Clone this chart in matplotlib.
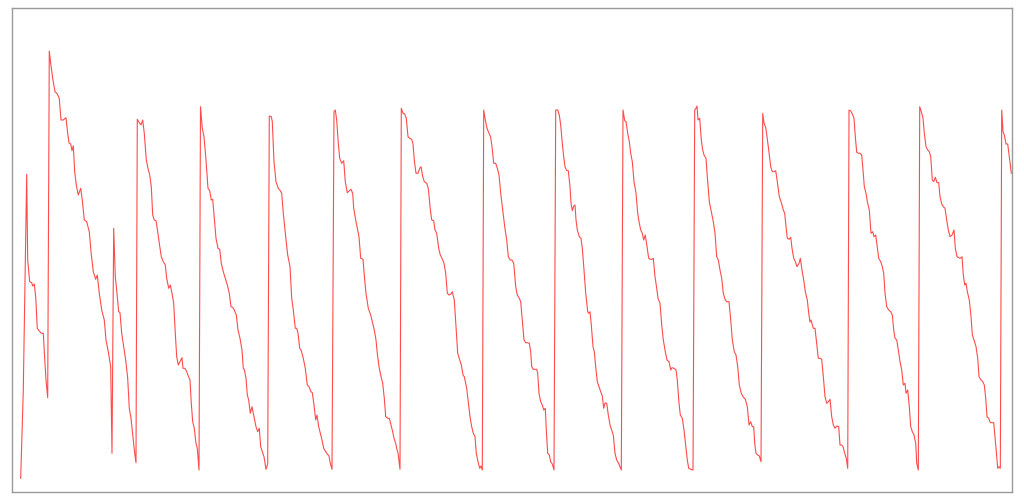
import matplotlib
matplotlib.use("Agg")
import matplotlib.pyplot as plt

# sample time (arbitrary units) and level
t = [0.7, 3.3, 6.7, 7.7, 9.7, 11.7, 12.7, 14.3, 15.7, 17.3, 19, 21.3, 23.3, 24.3, 26, 27.7,
     29.3, 30.7, 32.7, 35, 37.3, 39.3, 41, 43.3, 46, 47.7, 49, 50.7, 52, 53.3, 54.7, 56.3,
     58.3, 60.7, 62.3, 64.3, 66.7, 69.3, 71, 73.3, 75.7, 77.3, 79.3, 81.7, 84.3, 86, 88.3,
     90.7, 92,
     93.7, 95.3, 97, 98.7, 100, 101.7, 103.7, 105.7, 107.7, 109.3, 111, 113, 114.7, 116,
     117.3, 119.3, 121, 122.7, 124.3, 126.3, 128, 129.7, 131.3, 132.7, 134.3, 136, 137.7,
     139.3, 141.3, 143.3, 145.3, 146.7, 148.7, 150.3, 152, 153.7, 155.3, 156.7, 158.3, 160,
     162, 163, 165, 166.7, 168.3, 170, 171.3, 172.7, 174.3, 176, 177.3, 179,
     180.5, 182.3, 184, 186, 188, 189.7, 191.3, 192.7, 194.3, 196, 198, 199.7, 201.3, 203.3,
     205.3, 207.3, 209.3, 211, 212.7, 214.3, 216.3, 218, 220, 222, 223.3, 224.3, 226, 227.3,
     228.7, 230.3, 232, 234, 236, 237.7, 239.3, 240.7, 242.3, 244, 246, 247.7,
     249.3, 251.3, 252.3, 254, 256, 258.3, 260.3, 261.7, 263.3, 265.7, 267.7, 270, 271.7,
     273.3, 275.3, 276.7, 278, 279.7, 281.3, 283.3, 285.3, 287.3, 289, 291, 292.3, 294,
     295.7, 297, 298.7, 300.3, 302, 303.7, 305.7, 307.3, 309, 310.3, 312,
     314, 315.3, 316.7, 318.3, 319.7, 321.7, 323.7, 325.3, 327.3, 329.3, 331, 332.7, 333.7,
     335.7, 337.7, 339, 340.7, 343, 344.7, 346, 348.3, 350.7, 352.3, 354.3, 356, 357.3, 359,
     360.7, 362.7, 364.3, 365.7, 367.7, 369.3, 371, 372.7, 374, 375.7, 377, 378, 380,
     381.3, 383, 384.7, 386.3, 388, 389.7, 391.7, 393, 394.3, 396, 398, 399.7, 401, 402.7,
     404.3, 406.7, 408.3, 410, 411.7, 413.7, 415, 416.7, 418.7, 420.3, 422, 424, 425.7,
     427.3, 429, 431, 432.3, 434.3, 436, 437.7, 439.7, 441.3, 443, 444.3, 446.7, 448.3, 450,
     451.7, 453.3, 455, 456.3, 458, 459.7, 461, 462.3,
     463.7, 465.3, 467, 468.7, 470.7, 472, 473.7, 475.7, 477.3, 479, 480.7, 482.7, 484.7,
     486.7, 488.3, 490.3, 492, 493.7, 495.7, 497.3, 499.3, 500.7, 502.3, 504, 505.7, 507.7,
     509.3, 510.7, 511.7, 513.3, 516.7, 517.7, 519, 520.7, 522.3, 523.7, 525.3, 526.3,
     527.7, 529.3, 530.7, 532.3, 534,
     535.7, 537.7, 539.3, 540.7, 542.3, 543.7, 545, 546.7, 548.3, 550, 551, 552.3, 553.7,
     555, 556, 557.3, 559.3, 561, 562.3, 564, 565.7, 567.7, 568.7, 570, 571.3, 573, 574.3,
     576, 577.3, 579, 580.7, 582.3, 583.7, 585, 586.7, 588.3, 590, 591.7, 593.3, 595, 596.7,
     598.3, 600, 601.3,
     603, 604.7, 606, 607.7, 609.3, 610.7, 612.3, 614, 616, 617.7, 619, 620.7, 622.3, 623.7,
     625.3, 627, 628.7, 630.3, 632, 633.3, 635, 636.7, 638, 640, 641.7, 643.3, 645.3, 647,
     649, 650.7, 652, 654, 656, 657.3, 659, 660.3, 662.3, 664, 665.7, 667.3, 668.7, 670.7,
     673,
     674.7, 676, 677, 678, 679.7, 681.3, 682.7, 684, 686, 687.3, 689.3, 691.3, 693.3, 695,
     696.7, 698.3, 700, 701.7, 703.3, 705, 706.7, 709, 710.7, 712.3, 714.3, 716, 717.7,
     719.3, 721.3, 723, 725.3, 727.3, 729, 730.7, 732.3, 733.7, 734.7, 736, 737.7, 739.3,
     741,
     742.7, 744, 745.7, 747, 748.7, 750.7, 752.3, 754, 755.7, 757.3, 759.3, 761, 763.3,
     764.7, 766, 767.3, 769, 770.7, 772, 773.7, 775.3, 777, 779, 780.3, 782, 783.7, 785.3,
     787.3, 788.7, 790, 791, 793.3, 795, 796.7, 798.3, 800, 801.7, 803.3, 805, 806.7, 808.3,
     810, 811.7, 813.3, 815, 816.7, 818.7, 820, 821.7, 823, 824.7, 826.3, 827.7,
     829, 830.7, 832.3, 834, 835.3, 836.7, 838.3, 840, 841.7, 843, 844.3, 846, 847.3, 849.3,
     851, 852.7, 854, 855.7, 857, 858.7, 860.7, 862.3, 863.7, 865, 866.7, 868.7, 870.7,
     872.3, 873.7, 875, 876.7, 878.3, 880, 881.7, 883.3, 885, 886, 887.7, 889.3, 890.7,
     892.3, 894, 895.7, 896.7, 898.3,
     899.7, 901.3, 903, 904.3, 906, 907.7, 909.3, 910.7, 912.3, 913.7, 915.3, 917, 918.7,
     920, 921.7, 923.3, 925, 926.7, 928.3, 930, 932, 934, 935.3, 937, 938.7, 940.3, 942,
     943.3, 944.7, 946, 947.3, 949.3, 951, 952.3, 954, 956, 957.7, 959, 961, 962.7, 964.3,
     965.7, 967, 968.7, 970.3, 973.7, 975, 976.3, 977.7, 979, 980.3,
     981.7, 983, 984.3, 986, 987.7, 989.3, 991.3]

level = [13.7, 102, 317.7, 232, 210.3, 209.3, 206, 208, 195.3, 163.7, 161.3, 158.7, 158.7,
         140.3, 112, 94.3,
         441, 428.7, 413.7, 400.3, 398, 393.7, 372, 372, 374.3, 358.7, 349.3, 348, 341.3,
         346.3, 320.3, 307, 297, 303.7, 292, 272, 270.3, 260.3, 240.3, 220.3, 212.7, 217,
         198.7, 182, 172, 152, 140.3, 125.3, 38.7,
         263.7, 215.3, 198.7, 180.3, 179.3, 158.7, 145.3, 132, 113.7, 83.7, 73.7, 55.3, 38.7,
         29.3,
         372.7, 369.3, 367, 372, 358.7, 332, 323.7, 317, 305.3, 277, 272, 271.3, 260.3, 248.7,
         235.3, 230.3, 227, 213.7, 203.7, 207, 198.7, 188.7, 158.7, 135.3, 127, 130.3, 134.3,
         123.7, 123.7, 120.3, 116, 112, 88.7, 70.3, 63.7, 48.7, 43.7, 22,
         385.3, 363.7, 355.3, 332, 303.7, 301.3, 292, 292.7, 273.7, 253.7, 243.7, 242.7, 228.7,
         220.3, 213.7, 207, 198.7, 185.3, 184.7, 182, 177, 162, 153.7, 142, 123.7, 122.7,
         113.7, 97, 92, 78.7, 85.3, 75.3, 65.3, 60.3, 63.7, 45.3, 40.3, 35.3, 22.7, 28,
         376, 375.3, 370.3, 330.3, 310.3, 303.7, 301.3, 298.7, 278.7, 255.3, 237, 225.3, 193.7,
         182, 163.7, 163.7, 158.7, 143.7, 141.3, 133.7, 123.7, 107, 105.3, 100.3, 99.3, 87,
         72, 77, 65.3, 58.7, 52, 43.7, 40.3, 38, 36, 28.7, 22.7,
         380.3, 382, 372, 348.7, 333.7, 328.7, 331.3, 310.3, 299.3, 301.3, 302.7, 298.7, 283.7,
         272, 262, 255.3, 233.7, 232.7, 212, 198.7, 183.7, 177, 170.3, 162, 152, 138.7, 125.3,
         117, 108.7, 93.7, 75.3, 73.7, 73.7, 67, 60.3, 53.7, 48.7, 42, 39.3, 22.7,
         383.7, 378.7, 378, 373.7, 355.3, 353.7, 352.7, 348, 332, 318.7, 318.7, 323.7, 325.3,
         315.3, 310.3, 308.7, 303.7, 285.3, 272, 271.3, 262, 258.7, 243.7, 237, 233.7, 228.7,
         218.7, 198.7, 197, 198, 200.3, 192, 165.3, 138.7, 132, 127, 117, 115.3, 103.7, 90.3,
         75.3, 65.3, 58.7, 55.3, 38.7, 30.3, 23.7, 26, 22,
         382, 372, 363.7, 359.3, 354.7, 345.3, 328.7, 328.7, 323.7, 317, 298.7, 282, 265.3,
         252, 235.3, 232, 232, 228.7, 205.3, 197, 193.7, 190.3, 172, 152, 149.3, 149.3, 148.7,
         140.3, 125.3, 122.7, 122.7, 118.7, 98.7, 90.3, 87, 82, 83.7, 62, 38.7, 37, 30.3,
         28, 22,
         382, 382, 377, 367, 348.7, 335.3, 325.3, 321.3, 321.3, 305.3, 288.7, 281.3, 286, 287,
         272, 262, 255.3, 253.7, 243.7, 222, 198.7, 180.3, 178.7, 180.3, 167, 145.3, 140.3,
         122, 110.3, 105.3, 100.3, 96, 83.7, 89, 88.7, 77, 67, 62, 57, 38.7, 32, 29.3, 25.3,
         22,
         382, 371.3, 370.3, 358.7, 350.3, 338.7, 330.3, 310.3, 298.7, 278.7, 270.3, 262,
         258.7, 252, 257, 245.3, 233.7, 232.7, 232.7, 233.7, 215.3, 203.7, 193.7, 188.7, 167,
         152, 140.3, 132, 130.3, 122, 124.3, 123.7, 122, 112, 88.7, 77, 73.7, 62, 47, 32,
         23.7, 22.7, 22,
         382, 383.7, 386, 372, 373.7, 352, 342, 337, 333.7, 315.3, 290.3, 280.3, 270.3, 258.7,
         235.3, 232, 222, 213.7, 198.7, 192.7, 190.3, 190.3, 172, 152, 140.3, 137, 125.3, 107,
         98.7, 95.3, 92.7, 85.3, 67, 70.3, 65.3, 65.3, 48.7, 38.7, 37, 36, 30.3,
         378.7, 368.7, 364.7, 355.3, 342, 325.3, 320.3, 320.3, 321.3, 310.3, 295.3, 290.3, 282,
         278.7, 265.3, 253.7, 252.7, 254.7, 243.7, 233.7, 230.3, 225.3, 228.7, 233.7, 222, 212,
         200.3, 192, 178.7, 170, 172, 163.7, 163.7, 148.7, 133.7, 133.7, 132.7, 115.3, 95.3,
         88.7, 90.3, 92.7, 75.3, 67, 63.7, 66, 65.3, 47, 47, 45.3, 38.7, 33.7, 23.7,
         382, 381, 378, 373.7, 355.3, 339.7, 338.7, 338.7, 337, 322, 305.3, 298.7, 290.3, 282,
         258.7, 260.3, 255.3, 257, 247, 233.7, 230.3, 225.3, 218.7, 198.7, 185.3, 182, 180.3,
         177, 162, 153.7, 152, 142, 130.3, 122, 107, 108.7, 98.7, 102, 85.3, 65.3, 60.3, 57,
         48.7, 28.7, 22,
         385.3, 380.3, 373.7, 358.7, 345.3, 342, 340.3, 335.3, 312, 310.3, 314.7, 309.3, 309.3,
         295.3, 288, 285.3, 283.7, 272, 262, 255.3, 257, 262, 243.7, 235.3, 234.3, 233.7,
         235.3, 217, 207, 208.7, 200.3, 192, 175.3, 157, 152, 145.3, 133.7, 115.3, 112, 110.3,
         107, 93.7, 75.3, 73.7, 69.3, 69.3, 55.3, 40.3, 23.7, 25.3, 23.7,
         382, 360.3, 357, 348, 348, 335.3, 318.7]

fig = plt.figure(figsize=(10.24, 5), dpi=100)
ax = fig.add_axes([0.012, 0.0166, 0.9763, 0.968])
ax.plot(t, level, color='#ff4b4b', linewidth=0.8)

ax.set_xlim(-7.7, 992)
ax.set_ylim(0.3, 484.3)
ax.set_xticks([])
ax.set_yticks([])
for s in ax.spines.values():
    s.set_color('#999999')
    s.set_linewidth(1.0)

fig.savefig('out.png', dpi=100)
